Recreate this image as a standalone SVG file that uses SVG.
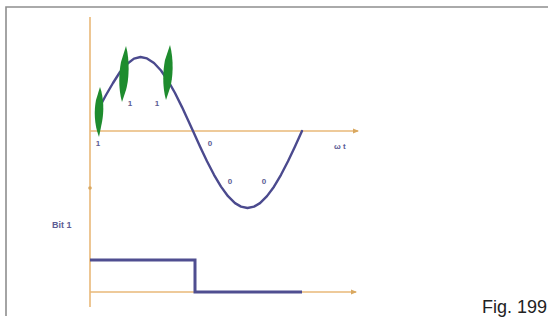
<svg xmlns="http://www.w3.org/2000/svg" width="548" height="321" viewBox="0 0 548 321">
<defs>
<style>
.frame{fill:none;stroke:#8e8e8e;stroke-width:1.6}
.axis{fill:none;stroke:#e9b878;stroke-width:1.6}
.wave{fill:none;stroke:#4b4a8e;stroke-width:2.4;stroke-linejoin:round;stroke-linecap:round}
.sq{fill:none;stroke:#4f4e90;stroke-width:3}
.mark{fill:#1e8c2e}
.lbl{font-family:"Liberation Sans",Arial,sans-serif;font-weight:bold;fill:#5c5c94}
.fig{font-family:"Liberation Sans",Arial,sans-serif;font-size:18px;fill:#222}
</style>
<marker id="arr" viewBox="0 0 6 6" refX="5" refY="3" markerWidth="6" markerHeight="6" orient="auto" markerUnits="userSpaceOnUse">
<path d="M0,0.5 L6,3 L0,5.5 Z" fill="#d9a860"/>
</marker>
</defs>
<rect width="548" height="321" fill="#ffffff"/>
<path class="frame" d="M6,316 V7 H548"/>
<g id="connectors">
<line class="axis" x1="90" y1="17" x2="90" y2="307"/>
<circle cx="90" cy="188" r="1.8" fill="#d9a860"/>
<line class="axis" x1="90" y1="131" x2="358" y2="131" marker-end="url(#arr)"/>
<line class="axis" x1="90" y1="292" x2="356" y2="292" marker-end="url(#arr)"/>
</g>
<g id="sine">
<polyline class="wave" points="99,108 106,95 113,83 120,72 127,64 134,58.6 140.5,57 147,58.4 154,63 161,70.5 168,80.7 175,93 182,107.1 189,122.2 193,131 200,146.4 207,161.2 214,174.8 221,186.6 228,196.2 235,203.1 241,206.6 247.5,208 254,206.6 260,203.1 267,196.1 274,186.7 281,174.8 288,161.2 295,146.5 302,131"/>
</g>
<g id="markers">
<path class="mark" d="M100,87 C104,98 104,112 102,122 L99,137 C94,124 94,110 96,100 Z"/>
<path class="mark" d="M126,46 C130,60 129,80 126,90 L122,102 C118,88 119,72 121,62 Z"/>
<path class="mark" d="M170,45 C174,60 173,78 170,88 L166,100 C162,86 163,70 165,60 Z"/>
</g>
<g id="labels">
<text class="lbl" x="98" y="146" font-size="8" text-anchor="middle">1</text>
<text class="lbl" x="130" y="106" font-size="8" text-anchor="middle">1</text>
<text class="lbl" x="157" y="106" font-size="8" text-anchor="middle">1</text>
<text class="lbl" x="210" y="146" font-size="8" text-anchor="middle">0</text>
<text class="lbl" x="230" y="184" font-size="8" text-anchor="middle">0</text>
<text class="lbl" x="264" y="184" font-size="8" text-anchor="middle">0</text>
<text class="lbl" x="334" y="149" font-size="8">ω t</text>
<text class="lbl" x="52" y="228" font-size="9">Bit 1</text>
</g>
<g id="square">
<polyline class="sq" points="90,260 195,260 195,292 302,292"/>
</g>
<text class="fig" x="482" y="313">Fig. 199</text>
</svg>
